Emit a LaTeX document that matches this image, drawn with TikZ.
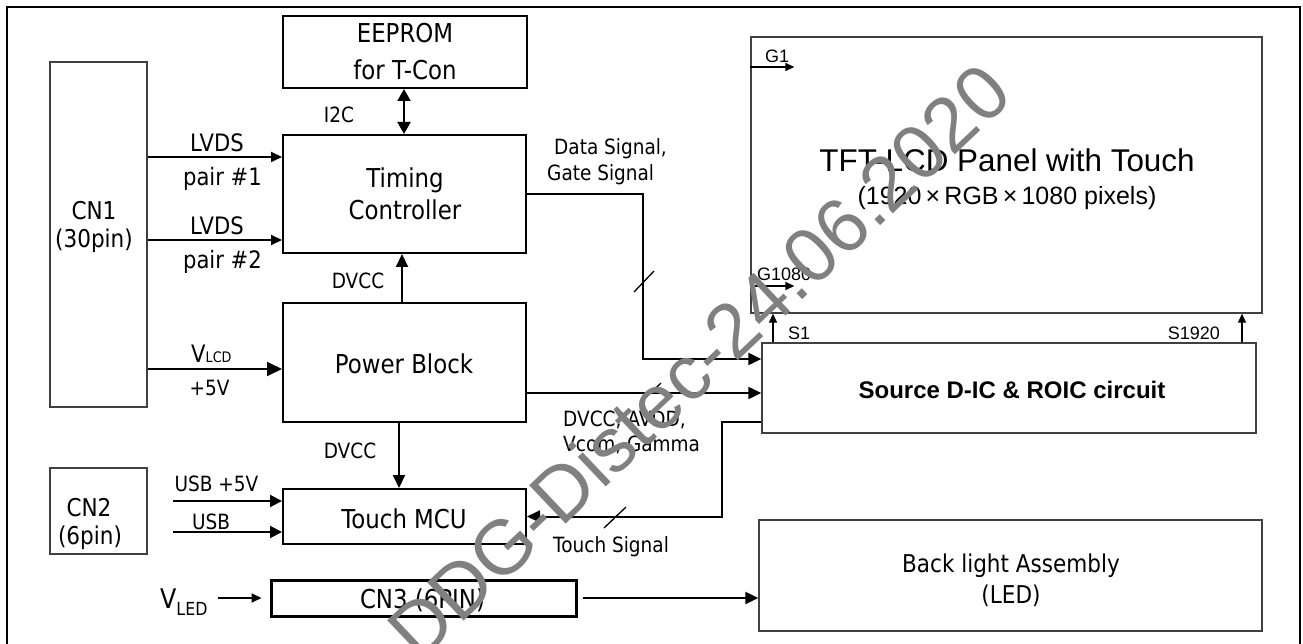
\documentclass[tikz,border=0pt]{standalone}
\usepackage{fontspec}
\setmainfont[FakeStretch=0.88]{DejaVu Sans}
\newfontfamily\ari{Liberation Sans}
\usetikzlibrary{arrows.meta}
\begin{document}
\begin{tikzpicture}[x=1pt,y=-1pt,
  hbox/.style={draw, line width=2pt, inner sep=0pt},
  lbox/.style={draw=black!75, line width=1.3pt, inner sep=0pt},
  big/.style={font=\fontsize{26}{30}\selectfont, anchor=base, inner sep=0pt},
  mid/.style={font=\fontsize{24.5}{28}\selectfont, anchor=base, inner sep=0pt},
  lbl/.style={font=\fontsize{24}{28}\selectfont, anchor=base, inner sep=0pt},
  sml/.style={font=\fontsize{21}{25}\selectfont, anchor=base, inner sep=0pt},
  ar/.style={font=\ari\fontsize{18}{21}\selectfont, anchor=base, inner sep=0pt},
  con/.style={line width=2pt},
  arr/.style={con, -{Triangle[length=13pt,width=12pt]}},
  sarr/.style={line width=1.3pt, -{Triangle[length=9pt,width=8pt]}},
  tick/.style={line width=1.3pt}
]
\useasboundingbox (0,0) rectangle (1303,644);
% outer frame
\draw[line width=2pt] (7,644) -- (7,7) -- (1300,7) -- (1300,644);

% boxes
\node[lbox, minimum width=97pt, minimum height=345pt] (cn1) at (98.5,234.5) {};
\node[lbox, minimum width=97pt, minimum height=86pt] (cn2) at (98.5,511) {};
\node[hbox, minimum width=244pt, minimum height=72pt] (eeprom) at (405,52) {};
\node[hbox, minimum width=243pt, minimum height=118pt] (timing) at (404.5,194) {};
\node[hbox, minimum width=243pt, minimum height=119pt] (power) at (404.5,362.5) {};
\node[hbox, minimum width=243pt, minimum height=55pt] (touch) at (404.5,516.5) {};
\node[draw, line width=3pt, inner sep=0pt, minimum width=305pt, minimum height=36pt] (cn3) at (423.5,598) {};
\node[lbox, minimum width=511pt, minimum height=276pt] (tft) at (1006.5,175) {};
\node[lbox, minimum width=494pt, minimum height=90pt] (src) at (1009,388) {};
\node[lbox, minimum width=503pt, minimum height=111pt] (bl) at (1010.5,575.5) {};

% box texts
\node[big] (tee1) at (405,43) {EEPROM};
\node[big] (tee2) at (405,80) {for T-Con};
\node[big] (ttc1) at (405,188) {Timing};
\node[big] (ttc2) at (405,220) {Controller};
\node[big] (tpb) at (404,373) {Power Block};
\node[big] (tmcu) at (404,528) {Touch MCU};
\node[big] (tcn3) at (422.5,608) {CN3 (6PIN)};
\node[mid] (tcn1a) at (94,220) {CN1};
\node[mid] (tcn1b) at (94,248) {(30pin)};
\node[mid] (tcn2a) at (89,516) {CN2};
\node[mid] (tcn2b) at (90,544) {(6pin)};
\node[mid] (tbl1) at (1011,572) {Back light Assembly};
\node[mid] (tbl2) at (1011,603) {(LED)};
\node[font=\ari\fontsize{31.4}{36}\selectfont, anchor=base, inner sep=0pt] (ttft1) at (1007,172) {TFT-LCD Panel with Touch};
\node[font=\ari\fontsize{25}{30}\selectfont, anchor=base, inner sep=0pt] (ttft2) at (1007,205) {(1920\,×\,RGB\,×\,1080 pixels)};
\node[font=\ari\bfseries\fontsize{24}{28}\selectfont, anchor=base, inner sep=0pt] (tsrc) at (1012,398) {Source D-IC \& ROIC circuit};

% connector labels
\node[sml] (li2c) at (339,122.5) {I2C};
\node[lbl] (llv1) at (217,152) {LVDS};
\node[lbl] (lp1) at (222.5,186) {pair \#1};
\node[lbl] (llv2) at (217,235) {LVDS};
\node[lbl] (lp2) at (222.5,269) {pair \#2};
\node[sml] (ldv1) at (358,288) {DVCC};
\node[lbl, anchor=base west] (lvlcd) at (191,362) {V{\fontsize{14.5}{16}\selectfont LCD}};
\node[sml] (l5v) at (209.5,395) {+5V};
\node[sml] (ldv2) at (350,458) {DVCC};
\node[sml] (lusb5) at (216.5,491) {USB +5V};
\node[sml] (lusb) at (211,529) {USB};
\node[anchor=base west, inner sep=0pt, font=\fontsize{27}{30}\selectfont] (lvled) at (160,608) {V\raisebox{-7pt}{\fontsize{18}{20}\selectfont LED}};
\node[sml, anchor=base west] (ldata) at (554,155) {Data Signal,};
\node[sml, anchor=base west] (lgate) at (547,181) {Gate Signal};
\node[sml, anchor=base west] (lpw1) at (563,426) {DVCC, AVDD,};
\node[sml, anchor=base west] (lpw2) at (563,451) {Vcom, Gamma};
\node[sml, anchor=base west] (lts) at (553,552) {Touch Signal};
\node[ar, anchor=base west] (lg1) at (765,63) {G1};
\node[ar, anchor=base west] (lg1080) at (757,280) {G1080};
\node[ar, anchor=base west] (ls1) at (788,339) {S1};
\node[ar, anchor=base east] (ls1920) at (1220,339) {S1920};

% free ends
\coordinate (usb5) at (173,501);
\coordinate (usbin) at (173,532);
\coordinate (vled) at (218,598);

% connectors
\draw[con, {Triangle[length=12pt,width=13pt]}-{Triangle[length=12pt,width=13pt]}] ([xshift=-1pt]eeprom.south) -- ([xshift=-0.5pt]timing.north);
\draw[arr, -{Triangle[length=11pt,width=10pt]}] (cn1.east |- 0,157) -- (timing.west |- 0,157);
\draw[arr, -{Triangle[length=11pt,width=10pt]}] (cn1.east |- 0,240) -- (timing.west |- 0,240);
\draw[arr] ([xshift=-2.5pt]power.north) -- ([xshift=-2.5pt]timing.south);
\draw[arr, -{Triangle[length=15pt,width=14pt]}] (cn1.east |- 0,369) -- (power.west |- 0,369);
\draw[arr] ([xshift=-5.5pt]power.south) -- ([xshift=-5.5pt]touch.north);
\draw[arr, -{Triangle[length=12pt,width=12pt]}] (usb5) -- (usb5 -| touch.west);
\draw[arr, -{Triangle[length=12pt,width=12pt]}] (usbin) -- (usbin -| touch.west);
\draw[con, -{Triangle[length=10pt,width=9pt]}] (vled) -- ([xshift=-8pt]cn3.west);
\draw[arr] ([xshift=5pt]cn3.east) -- (cn3.east -| bl.west);
\draw[arr] (timing.east) -| (643,359) -- (src.west |- 0,359);
\draw[arr] (power.east |- 0,393) -- (src.west |- 0,393);
\draw[arr] (src.west |- 0,422) -- (722,422) |- (touch.east);
\draw[sarr] (tft.west |- 0,67) -- ++(44,0);
\draw[sarr] (tft.west |- 0,286) -- ++(44,0);
\draw[sarr] (src.north -| 773,0) -- (tft.south -| 773,0);
\draw[sarr] (src.north -| 1242,0) -- (tft.south -| 1242,0);

% bus ticks
\draw[tick] (634,292) -- (654,271);
\draw[tick] (640,403) -- (661,383);
\draw[tick] (604,528) -- (626,507);

% watermark
\node[font=\ari\fontsize{77}{80}\selectfont, text=black!50, rotate=43.5, anchor=base west, inner sep=0pt] (wm) at (419,664) {DDG-Distec-24.06.2020};
\end{tikzpicture}
\end{document}
